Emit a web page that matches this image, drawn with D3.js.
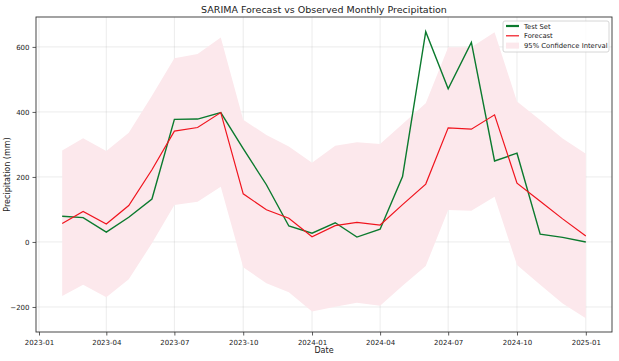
<!DOCTYPE html>
<html>
<head>
<meta charset="utf-8">
<script src="https://cdn.jsdelivr.net/npm/d3@7"></script>
<style>
  body { margin: 0; background: #fff; }
  text { font-family: "DejaVu Sans", sans-serif; fill: #222; }
</style>
</head>
<body>
<div id="chart"></div>
<script>
// SARIMA forecast vs observed

const width = 619,
    height = 361,
    margin = ({ top: 17, right: 7, bottom: 29, left: 36 });

const months = ["2023-02","2023-03","2023-04","2023-05","2023-06","2023-07","2023-08","2023-09",
    "2023-10","2023-11","2023-12","2024-01","2024-02","2024-03","2024-04","2024-05",
    "2024-06","2024-07","2024-08","2024-09","2024-10","2024-11","2024-12","2025-01"];
const testSet = [79, 75, 30, 76, 132, 377, 378, 398, 287, 176, 49, 27, 59, 15, 39, 201,
    647, 471, 614, 249, 273, 24, 14, 0];
const forecast = [57, 94, 55, 112, 222, 341, 352, 398, 148, 99, 73, 16, 50, 60, 52, 115,
    178, 351, 347, 391, 181, 125, 71, 18];
const ciUpper = [281, 319, 280, 336, 450, 565, 578, 629, 376, 329, 294, 244, 296, 307, 301, 363,
    427, 599, 599, 645, 432, 375, 318, 271];
const ciLower = [-166, -132, -170, -115, -4, 114, 124, 170, -78, -127, -155, -214, -199, -187, -196, -135,
    -74, 98, 96, 139, -71, -132, -189, -235];
const xTicks = ["2023-01","2023-04","2023-07","2023-10","2024-01","2024-04","2024-07","2024-10","2025-01"];
const yTicks = [-200, 0, 200, 400, 600];

const parse = d3.timeParse("%Y-%m");
const dates = months.map(parse);
const rows = dates.map((d, i) => ({ date: d, test: testSet[i], fc: forecast[i], lo: ciLower[i], hi: ciUpper[i] }));

const svg = d3.select("#chart")
    .append("svg")
    .attr("width", width)
    .attr("height", height)
    .attr("viewBox", [0, 0, width, height]);

// matplotlib style 5% padding on x
const span = dates[dates.length - 1] - dates[0];
const x = d3.scaleTime()
    .domain([new Date(+dates[0] - span * 0.05), new Date(+dates[dates.length - 1] + span * 0.05)])
    .range([margin.left, width - margin.right]);

const y = d3.scaleLinear()
    .domain([-277, 692])
    .range([height - margin.bottom, margin.top]);

// grid
const grid = svg.append("g").attr("stroke", "#b0b0b0").attr("stroke-opacity", 0.3).attr("stroke-width", 0.8);
grid.selectAll(".gx").data(xTicks.map(parse)).join("line")
    .attr("x1", d => x(d)).attr("x2", d => x(d))
    .attr("y1", margin.top).attr("y2", height - margin.bottom);
grid.selectAll(".gy").data(yTicks).join("line")
    .attr("x1", margin.left).attr("x2", width - margin.right)
    .attr("y1", d => y(d)).attr("y2", d => y(d));

// confidence band
svg.append("path")
    .datum(rows)
    .attr("fill", "#fce8ec")
    .attr("d", d3.area().x(d => x(d.date)).y0(d => y(d.lo)).y1(d => y(d.hi)));

const line = key => d3.line().x(d => x(d.date)).y(d => y(d[key]));

svg.append("path")
    .datum(rows)
    .attr("fill", "none")
    .attr("stroke", "#0b7a2e")
    .attr("stroke-width", 1.4)
    .attr("d", line("test"));

svg.append("path")
    .datum(rows)
    .attr("fill", "none")
    .attr("stroke", "#f0141e")
    .attr("stroke-width", 1.2)
    .attr("d", line("fc"));

// axes
const xAxis = svg.append("g")
    .attr("transform", `translate(0,${height - margin.bottom})`)
    .call(d3.axisBottom(x).tickValues(xTicks.map(parse)).tickFormat(d3.timeFormat("%Y-%m")).tickSize(3.5).tickSizeOuter(0));
const yAxis = svg.append("g")
    .attr("transform", `translate(${margin.left},0)`)
    .call(d3.axisLeft(y).tickValues(yTicks).tickFormat(d => d < 0 ? "\u2212" + Math.abs(d) : d).tickSize(3.5).tickSizeOuter(0));

[xAxis, yAxis].forEach(a => {
    a.select(".domain").remove();
    a.selectAll(".tick line").attr("stroke", "#333").attr("stroke-width", 0.8);
    a.selectAll(".tick text").attr("font-size", 7).attr("fill", "#222").style("font-family", "DejaVu Sans");
});
xAxis.selectAll(".tick text").attr("dy", "0.95em");

// frame
svg.append("rect")
    .attr("x", margin.left).attr("y", margin.top)
    .attr("width", width - margin.left - margin.right)
    .attr("height", height - margin.top - margin.bottom)
    .attr("fill", "none").attr("stroke", "#333").attr("stroke-width", 0.9);

// labels
svg.append("text")
    .attr("x", (margin.left + width - margin.right) / 2).attr("y", 12.5)
    .attr("text-anchor", "middle").attr("font-size", 9.5)
    .text("SARIMA Forecast vs Observed Monthly Precipitation");
svg.append("text")
    .attr("x", (margin.left + width - margin.right) / 2).attr("y", 353)
    .attr("text-anchor", "middle").attr("font-size", 8)
    .text("Date");
svg.append("text")
    .attr("transform", `translate(10,${(margin.top + height - margin.bottom) / 2}) rotate(-90)`)
    .attr("text-anchor", "middle").attr("font-size", 8)
    .text("Precipitation (mm)");

// legend
const legend = svg.append("g").attr("transform", "translate(503,21)");
legend.append("rect")
    .attr("width", 106).attr("height", 31).attr("rx", 2)
    .attr("fill", "#fff").attr("fill-opacity", 0.8)
    .attr("stroke", "#ccc").attr("stroke-width", 0.8);
const items = [
    { label: "Test Set", type: "line", color: "#0b7a2e", w: 2.2 },
    { label: "Forecast", type: "line", color: "#f0141e", w: 1.2 },
    { label: "95% Confidence Interval", type: "patch", color: "#fce8ec" }
];
items.forEach((it, i) => {
    const g = legend.append("g").attr("transform", `translate(0,${5 + i * 9.8})`);
    if (it.type === "line") {
        g.append("line").attr("x1", 3).attr("x2", 16).attr("y1", 0).attr("y2", 0)
            .attr("stroke", it.color).attr("stroke-width", it.w);
    } else {
        g.append("rect").attr("x", 3).attr("y", -3).attr("width", 13).attr("height", 6).attr("fill", it.color);
    }
    g.append("text").attr("x", 21).attr("y", 2.5).attr("font-size", 6.8).text(it.label);
});
</script>
</body>
</html>
